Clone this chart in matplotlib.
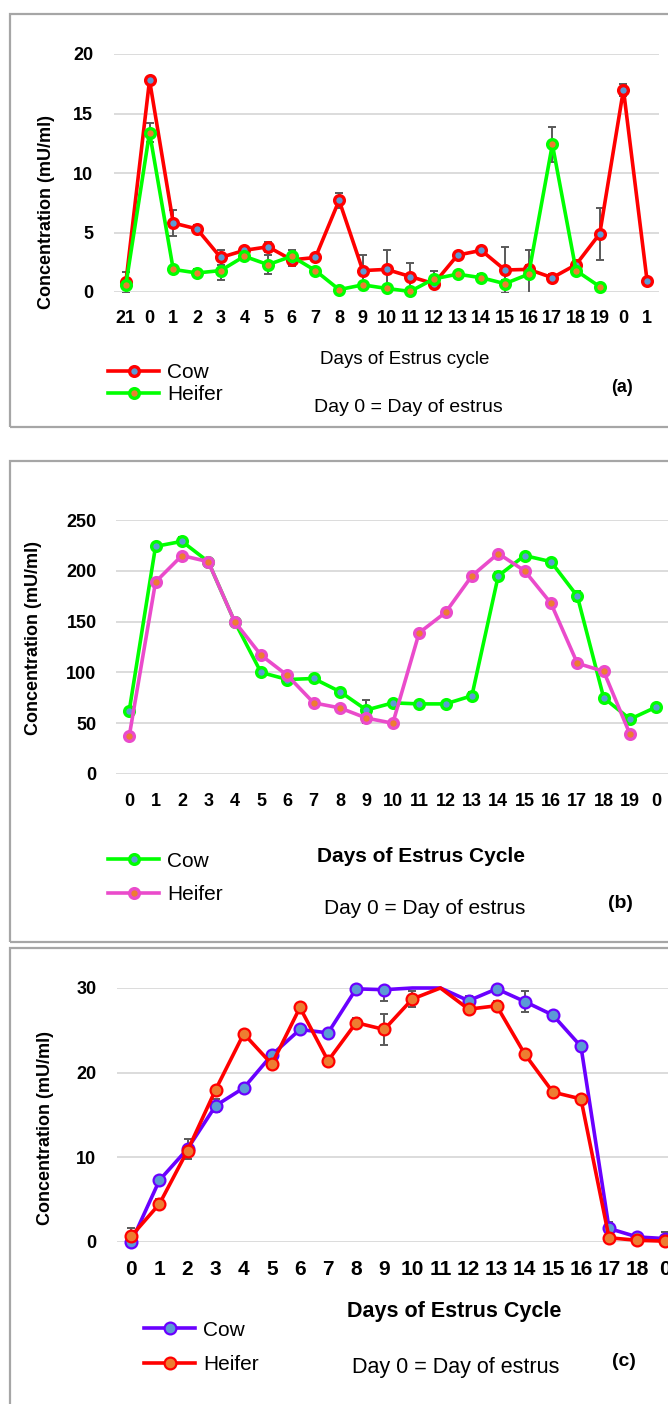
import numpy as np
import matplotlib
matplotlib.use("Agg")
import matplotlib.pyplot as plt
from matplotlib.patches import Rectangle

plt.rcParams['font.family'] = ['Liberation Sans', 'DejaVu Sans']

nan = np.nan

# ---------------- Panel (a) ----------------
days_a = ['21', '0', '1', '2', '3', '4', '5', '6', '7', '8', '9', '10', '11', '12',
          '13', '14', '15', '16', '17', '18', '19', '0', '1']
cow_a = [0.8, 17.8, 5.8, 5.3, 2.9, 3.5, 3.8, 2.7, 2.9, 7.7, 1.8, 1.9, 1.3, 0.7,
         3.1, 3.5, 1.85, 1.9, 1.2, 2.3, 4.9, 17.0, 0.9]
heifer_a = [0.6, 13.4, 1.9, 1.6, 1.8, 3.0, 2.3, 3.0, 1.8, 0.2, 0.6, 0.3, 0.05, 1.1,
            1.5, 1.2, 0.7, 1.5, 12.4, 1.8, 0.45, nan, nan]
cow_a_err = [0.9, 0.3, 1.1, 0.3, 0.6, 0.3, 0.4, 0.5, 0.3, 0.65, 1.3, 1.6, 1.1, 0.3,
             0.3, 0.3, 1.9, 0.4, 0.3, 0.3, 2.2, 0.5, 0.2]
heifer_a_err = [0.3, 0.8, 0.3, 0.3, 0.8, 0.3, 0.8, 0.5, 0.3, 0.2, 0.2, 0.2, 0.2, 0.7,
                0.3, 0.3, 0.3, 2.0, 1.5, 0.3, 0.2, nan, nan]

# ---------------- Panel (b) ----------------
days_b = ['0', '1', '2', '3', '4', '5', '6', '7', '8', '9', '10', '11', '12', '13',
          '14', '15', '16', '17', '18', '19', '0']
cow_b = [62, 224, 229, 209, 150, 100, 93, 94, 81, 63, 70, 69, 69, 77,
         195, 215, 209, 175, 75, 54, 66]
heifer_b = [37, 189, 215, 209, 150, 117, 97, 70, 65, 55, 50, 139, 159, 195,
            217, 200, 168, 109, 101, 39, nan]
cow_b_err = [2, 2, 4, 2, 2, 2, 2, 2, 2, 10, 2, 2, 2, 4,
             4, 2, 2, 5, 2, 4, 2]
heifer_b_err = [2, 2, 2, 2, 2, 2, 2, 2, 2, 5, 2, 2, 2, 2,
                2, 2, 2, 2, 2, 2, nan]

# ---------------- Panel (c) ----------------
days_c = ['0', '1', '2', '3', '4', '5', '6', '7', '8', '9', '10', '11', '12', '13',
          '14', '15', '16', '17', '18', '0']
cow_c = [0.0, 7.3, 11.0, 16.1, 18.2, 22.1, 25.1, 24.7, 29.9, 29.8, 30.8, 30.8, 28.5, 29.9,
         28.4, 26.8, 23.1, 1.6, 0.6, 0.4]
heifer_c = [0.7, 4.5, 10.8, 18.0, 24.6, 21.0, 27.7, 21.4, 25.9, 25.1, 28.7, 30.8, 27.5, 27.9,
            22.2, 17.7, 16.9, 0.5, 0.2, 0.1]
cow_c_err = [1.2, 0.3, 1.2, 0.8, 0.3, 0.3, 0.3, 0.3, 0.5, 1.3, 0.3, 0.3, 0.5, 0.5,
             1.2, 0.3, 0.3, 0.8, 0.4, 0.8]
heifer_c_err = [0.9, 0.6, 0.3, 0.3, 0.3, 0.3, 0.3, 0.3, 0.5, 1.8, 1.0, 0.3, 0.5, 0.6,
                0.3, 0.3, 0.3, 0.3, 0.3, 0.3]

W, H = 668, 1404
fig = plt.figure(figsize=(W / 100, H / 100), dpi=100)

BLUE_FACE = '#5B9BD5'
ORANGE_FACE = '#ED7D31'
GRID = '#D9D9D9'
ERR = '#595959'
BORDER = '#A6A6A6'


def add_ax(x0, x1, y0, y1):
    return fig.add_axes([x0 / W, 1 - y1 / H, (x1 - x0) / W, (y1 - y0) / H])


def border(y0, y1):
    fig.add_artist(Rectangle((10 / W, 1 - y1 / H), (720 - 10) / W, (y1 - y0) / H,
                             transform=fig.transFigure, fill=False,
                             ec=BORDER, lw=1.6, zorder=0))


def ftext(x, y, s, **kw):
    fig.text(x / W, 1 - y / H, s, ha='center', va='center', **kw)


def draw_series(ax, vals, errs, ymax, lc, fc, lw, ms, mew):
    x = np.arange(len(vals))
    v = np.array(vals, dtype=float)
    e = np.array(errs, dtype=float)
    ax.errorbar(x, v, yerr=e, fmt='none', ecolor=ERR, elinewidth=1.4,
                capsize=3.2, capthick=1.4, zorder=2)
    shown = np.minimum(v, ymax)
    keep = [i for i in range(len(v)) if np.isfinite(v[i]) and v[i] <= ymax]
    ln, = ax.plot(x, shown, color=lc, lw=lw, marker='o', ms=ms, mfc=fc, mec=lc,
                  mew=mew, markevery=keep, zorder=3, clip_on=False)
    return ln


def setup(ax, labels, ymax, ystep, xfs, yfs, xpad, ypad):
    n = len(labels)
    ax.set_xlim(-0.5, n - 0.5)
    ax.set_ylim(0, ymax)
    ax.set_xticks(np.arange(n))
    ax.set_xticklabels(labels, fontsize=xfs, fontweight='bold')
    ax.set_yticks(np.arange(0, ymax + 1, ystep))
    ax.set_yticklabels([str(t) for t in np.arange(0, ymax + 1, ystep)],
                       fontsize=yfs, fontweight='bold')
    ax.tick_params(axis='both', length=0)
    ax.tick_params(axis='x', pad=xpad)
    ax.tick_params(axis='y', pad=ypad)
    for s in ax.spines.values():
        s.set_visible(False)
    ax.grid(axis='y', color=GRID, lw=1.3)
    ax.set_axisbelow(True)
    ax.patch.set_alpha(0)


# ---- (a)
border(14, 427)
ax_a = add_ax(114, 659, 54, 292)
setup(ax_a, days_a, 20, 5, 13, 13, 13, 15)
l1 = draw_series(ax_a, cow_a, cow_a_err, 20, '#FF0000', BLUE_FACE, 2.6, 7.0, 2.4)
l2 = draw_series(ax_a, heifer_a, heifer_a_err, 20, '#00FF00', ORANGE_FACE, 2.6, 7.0, 2.4)
fig.text(47 / W, 1 - 212 / H, 'Concentration (mU/ml)', rotation=90, ha='center',
         va='center', fontsize=13, fontweight='bold')
ftext(405, 359, 'Days of Estrus cycle', fontsize=13.5)
ftext(408, 407, 'Day 0 = Day of estrus', fontsize=14)
ftext(622, 388, '(a)', fontsize=13, fontweight='bold')
fig.legend([l1, l2], ['Cow', 'Heifer'], loc='center left',
           bbox_to_anchor=(108 / W, 1 - 383.5 / H), frameon=False, fontsize=15,
           handlelength=2.45, handletextpad=0.4, labelspacing=0.15,
           borderpad=0, borderaxespad=0)

# ---- (b)
border(461, 942)
ax_b = add_ax(116, 669.6, 520, 774)
setup(ax_b, days_b, 250, 50, 13, 13, 14, 14)
l3 = draw_series(ax_b, cow_b, cow_b_err, 250, '#00FF00', BLUE_FACE, 2.6, 7.0, 2.4)
l4 = draw_series(ax_b, heifer_b, heifer_b_err, 250, '#EA4BCB', ORANGE_FACE, 2.6, 7.0, 2.4)
fig.text(34 / W, 1 - 638 / H, 'Concentration (mU/ml)', rotation=90, ha='center',
         va='center', fontsize=13, fontweight='bold')
ftext(421, 857, 'Days of Estrus Cycle', fontsize=15, fontweight='bold')
ftext(425, 909, 'Day 0 = Day of estrus', fontsize=15)
ftext(620, 903, '(b)', fontsize=14, fontweight='bold')
fig.legend([l3, l4], ['Cow', 'Heifer'], loc='center left',
           bbox_to_anchor=(108 / W, 1 - 878 / H), frameon=False, fontsize=15,
           handlelength=2.45, handletextpad=0.4, labelspacing=0.7,
           borderpad=0, borderaxespad=0)

# ---- (c)
border(948, 1440)
ax_c = add_ax(117.3, 679.3, 988, 1242)
setup(ax_c, days_c, 30, 10, 15, 13, 13, 15)
l5 = draw_series(ax_c, cow_c, cow_c_err, 30, '#6A00FF', BLUE_FACE, 2.6, 8.5, 1.6)
l6 = draw_series(ax_c, heifer_c, heifer_c_err, 30, '#FF0000', ORANGE_FACE, 2.6, 8.5, 1.6)
fig.text(46 / W, 1 - 1128 / H, 'Concentration (mU/ml)', rotation=90, ha='center',
         va='center', fontsize=13, fontweight='bold')
ftext(454, 1311, 'Days of Estrus Cycle', fontsize=15.5, fontweight='bold')
ftext(456, 1367, 'Day 0 = Day of estrus', fontsize=15.5)
ftext(624, 1361, '(c)', fontsize=14, fontweight='bold')
fig.legend([l5, l6], ['Cow', 'Heifer'], loc='center left',
           bbox_to_anchor=(144 / W, 1 - 1347.5 / H), frameon=False, fontsize=15,
           handlelength=2.45, handletextpad=0.4, labelspacing=0.75,
           borderpad=0, borderaxespad=0)

fig.savefig('out.png', dpi=100)
